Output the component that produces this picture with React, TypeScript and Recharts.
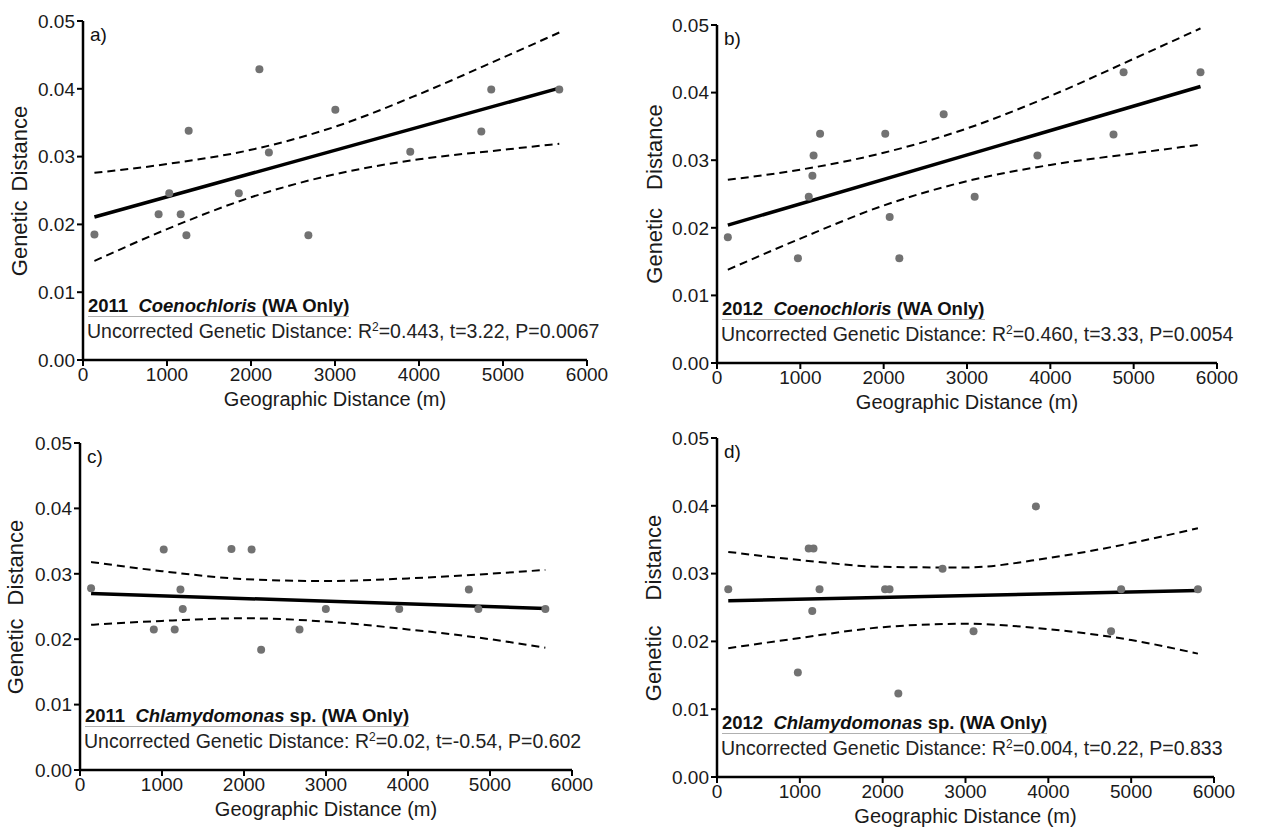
import { ComposedChart, Line, Scatter, XAxis, YAxis } from 'recharts';

const X_TICKS = [0, 1000, 2000, 3000, 4000, 5000, 6000];
const Y_TICKS = [0, 0.01, 0.02, 0.03, 0.04, 0.05];
const BAND_X = [1000, 2000, 3000, 4000, 5000];

// a) 2011 Coenochloris
const aGeo = [136, 900, 1027, 1163, 1231, 1258, 1855, 2100, 2213, 2683, 3004, 3896, 4742, 4860, 5670];
const aGen = [0.0185, 0.0215, 0.0246, 0.0215, 0.0184, 0.0338, 0.0246, 0.0429, 0.0306, 0.0184, 0.0369, 0.0307, 0.0337, 0.0399, 0.0399];
const aFit = [0.0211, 0.0401];
const aUpper = [0.0276, 0.0289, 0.0310, 0.0344, 0.0392, 0.0446, 0.0483];
const aLower = [0.0146, 0.0193, 0.0240, 0.0274, 0.0296, 0.0310, 0.0319];

// b) 2012 Coenochloris
const bGeo = [130, 971, 1101, 1145, 1159, 1237, 2019, 2072, 2188, 2720, 3092, 3845, 4758, 4879, 5802];
const bGen = [0.0186, 0.0155, 0.0246, 0.0277, 0.0307, 0.0339, 0.0339, 0.0216, 0.0155, 0.0368, 0.0246, 0.0307, 0.0338, 0.0430, 0.0430];
const bFit = [0.0204, 0.0409];
const bUpper = [0.0271, 0.0286, 0.0311, 0.0347, 0.0395, 0.0450, 0.0495];
const bLower = [0.0138, 0.0184, 0.0233, 0.0269, 0.0293, 0.0310, 0.0323];

// c) 2011 Chlamydomonas
const cGeo = [135, 900, 1021, 1155, 1225, 1253, 1847, 2093, 2209, 2677, 2998, 3893, 4742, 4858, 5675];
const cGen = [0.0278, 0.0215, 0.0337, 0.0215, 0.0276, 0.0246, 0.0338, 0.0337, 0.0184, 0.0215, 0.0246, 0.0246, 0.0276, 0.0246, 0.0246];
const cFit = [0.0270, 0.0247];
const cUpper = [0.0318, 0.0304, 0.0292, 0.0289, 0.0293, 0.0300, 0.0306];
const cLower = [0.0222, 0.0228, 0.0232, 0.0227, 0.0215, 0.0200, 0.0187];

// d) 2012 Chlamydomonas
const dGeo = [136, 976, 1107, 1165, 1150, 1238, 2029, 2083, 2189, 2723, 3097, 3850, 4757, 4879, 5806];
const dGen = [0.0277, 0.0154, 0.0337, 0.0337, 0.0245, 0.0277, 0.0277, 0.0277, 0.0123, 0.0307, 0.0215, 0.0399, 0.0215, 0.0277, 0.0277];
const dFit = [0.0260, 0.0275];
const dUpper = [0.0332, 0.0320, 0.0310, 0.0309, 0.0323, 0.0345, 0.0367];
const dLower = [0.0190, 0.0205, 0.0221, 0.0226, 0.0218, 0.0202, 0.0182];

const FONT = "'Liberation Sans', Arial, Helvetica, sans-serif";

type PanelProps = {
  geo: number[];
  gen: number[];
  fit: number[];
  upper: number[];
  lower: number[];
  letter: string;
  year: string;
  genus: string;
  rest: string;
  stats: [string, string];
  labelX: number;
  labelGap: number;
  axisX: number;
  top: number;
  bottom: number;
  right: number;
};

const Panel = (p: PanelProps) => {
  const first = p.geo[0];
  const last = p.geo[p.geo.length - 1];
  const points = p.geo.map((x, i) => ({ x, y: p.gen[i] }));
  const fitLine = [{ x: first, y: p.fit[0] }, { x: last, y: p.fit[1] }];
  const bandXs = [first, ...BAND_X, last];
  const band = bandXs.map((x, i) => ({ x, upper: p.upper[i], lower: p.lower[i] }));

  const yw = 80;
  const padTop = 15;
  const padRight = 40;
  const xh = 60;
  const left = p.axisX - yw;
  const width = p.right - p.axisX + yw + padRight;
  const height = p.bottom - p.top + padTop + xh;
  const plotH = p.bottom - p.top;
  const tickStyle = { fontSize: 19, fill: '#1a1a1a', fontFamily: FONT };

  return (
    <div style={{ position: 'absolute', left, top: p.top - padTop, width, height, fontFamily: FONT }}>
      <ComposedChart width={width} height={height} margin={{ top: padTop, right: padRight, bottom: 0, left: 0 }}>
        <XAxis
          type="number"
          dataKey="x"
          domain={[0, 6000]}
          ticks={X_TICKS}
          allowDataOverflow
          height={xh}
          tick={tickStyle}
          tickSize={6}
          axisLine={{ stroke: '#000', strokeWidth: 2.5 }}
          tickLine={{ stroke: '#000', strokeWidth: 2 }}
        />
        <YAxis
          type="number"
          domain={[0, 0.05]}
          ticks={Y_TICKS}
          width={yw}
          tick={tickStyle}
          tickSize={6}
          tickFormatter={(v: number) => v.toFixed(2)}
          axisLine={{ stroke: '#000', strokeWidth: 2.5 }}
          tickLine={{ stroke: '#000', strokeWidth: 2 }}
        />
        <Line data={band} dataKey="upper" type="monotone" stroke="#000" strokeWidth={2} strokeDasharray="8 5" dot={false} isAnimationActive={false} />
        <Line data={band} dataKey="lower" type="monotone" stroke="#000" strokeWidth={2} strokeDasharray="8 5" dot={false} isAnimationActive={false} />
        <Line data={fitLine} dataKey="y" type="linear" stroke="#000" strokeWidth={3.5} dot={false} isAnimationActive={false} />
        <Scatter data={points} dataKey="y" fill="#727272" isAnimationActive={false}
          shape={(s: any) => <circle cx={s.cx} cy={s.cy} r={4} fill="#727272" />} />
      </ComposedChart>

      {/* panel letter */}
      <div style={{ position: 'absolute', left: yw + 7, top: padTop + 2, fontSize: 19, lineHeight: '24px', color: '#111' }}>{p.letter}</div>

      {/* species title and regression statistics */}
      <div style={{ position: 'absolute', left: yw + 5, top: padTop + plotH - 64, fontSize: 18.5, fontWeight: 'bold', color: '#111', whiteSpace: 'pre', borderBottom: '1.5px solid #b0b0b0', lineHeight: '20px' }}>
        {p.year + '  '}<i>{p.genus}</i>{p.rest}
      </div>
      <div style={{ position: 'absolute', left: yw + 4, top: padTop + plotH - 40, fontSize: 19.5, color: '#222', whiteSpace: 'nowrap', lineHeight: '22px' }}>
        {p.stats[0]}R<sup style={{ fontSize: 12, lineHeight: 0 }}>2</sup>{p.stats[1]}
      </div>

      {/* x axis title */}
      <div style={{ position: 'absolute', left: yw - 150 + (p.right - p.axisX) / 2, width: 300, textAlign: 'center', top: padTop + plotH + 27, fontSize: 20, lineHeight: '24px', color: '#1a1a1a' }}>
        Geographic Distance (m)
      </div>

      {/* y axis title */}
      <div style={{ position: 'absolute', left: p.labelX - left - 150, top: padTop + plotH / 2 - 13, width: 300, height: 26, display: 'flex', justifyContent: 'center', alignItems: 'center', gap: p.labelGap, transform: 'rotate(-90deg)', fontSize: 22, color: '#1a1a1a', whiteSpace: 'nowrap' }}>
        <span>Genetic</span><span>Distance</span>
      </div>
    </div>
  );
};

export default function App() {
  return (
    <div style={{ position: 'absolute', left: 0, top: 0, width: 1279, height: 827, background: '#fff' }}>
      <Panel geo={aGeo} gen={aGen} fit={aFit} upper={aUpper} lower={aLower}
        letter="a)" year="2011" genus="Coenochloris" rest=" (WA Only)"
        stats={['Uncorrected Genetic Distance: ', '=0.443, t=3.22, P=0.0067']}
        labelX={20} labelGap={9} axisX={83} top={21} bottom={360} right={587} />
      <Panel geo={bGeo} gen={bGen} fit={bFit} upper={bUpper} lower={bLower}
        letter="b)" year="2012" genus="Coenochloris" rest=" (WA Only)"
        stats={['Uncorrected Genetic Distance: ', '=0.460, t=3.33, P=0.0054']}
        labelX={655} labelGap={18} axisX={717} top={25} bottom={363} right={1217} />
      <Panel geo={cGeo} gen={cGen} fit={cFit} upper={cUpper} lower={cLower}
        letter="c)" year="2011" genus="Chlamydomonas" rest=" sp. (WA Only)"
        stats={['Uncorrected Genetic Distance: ', '=0.02, t=-0.54, P=0.602']}
        labelX={16} labelGap={13} axisX={80} top={443} bottom={770} right={572} />
      <Panel geo={dGeo} gen={dGen} fit={dFit} upper={dUpper} lower={dLower}
        letter="d)" year="2012" genus="Chlamydomonas" rest=" sp. (WA Only)"
        stats={['Uncorrected Genetic Distance: ', '=0.004, t=0.22, P=0.833']}
        labelX={654} labelGap={25} axisX={717} top={438} bottom={777} right={1214} />
    </div>
  );
}
